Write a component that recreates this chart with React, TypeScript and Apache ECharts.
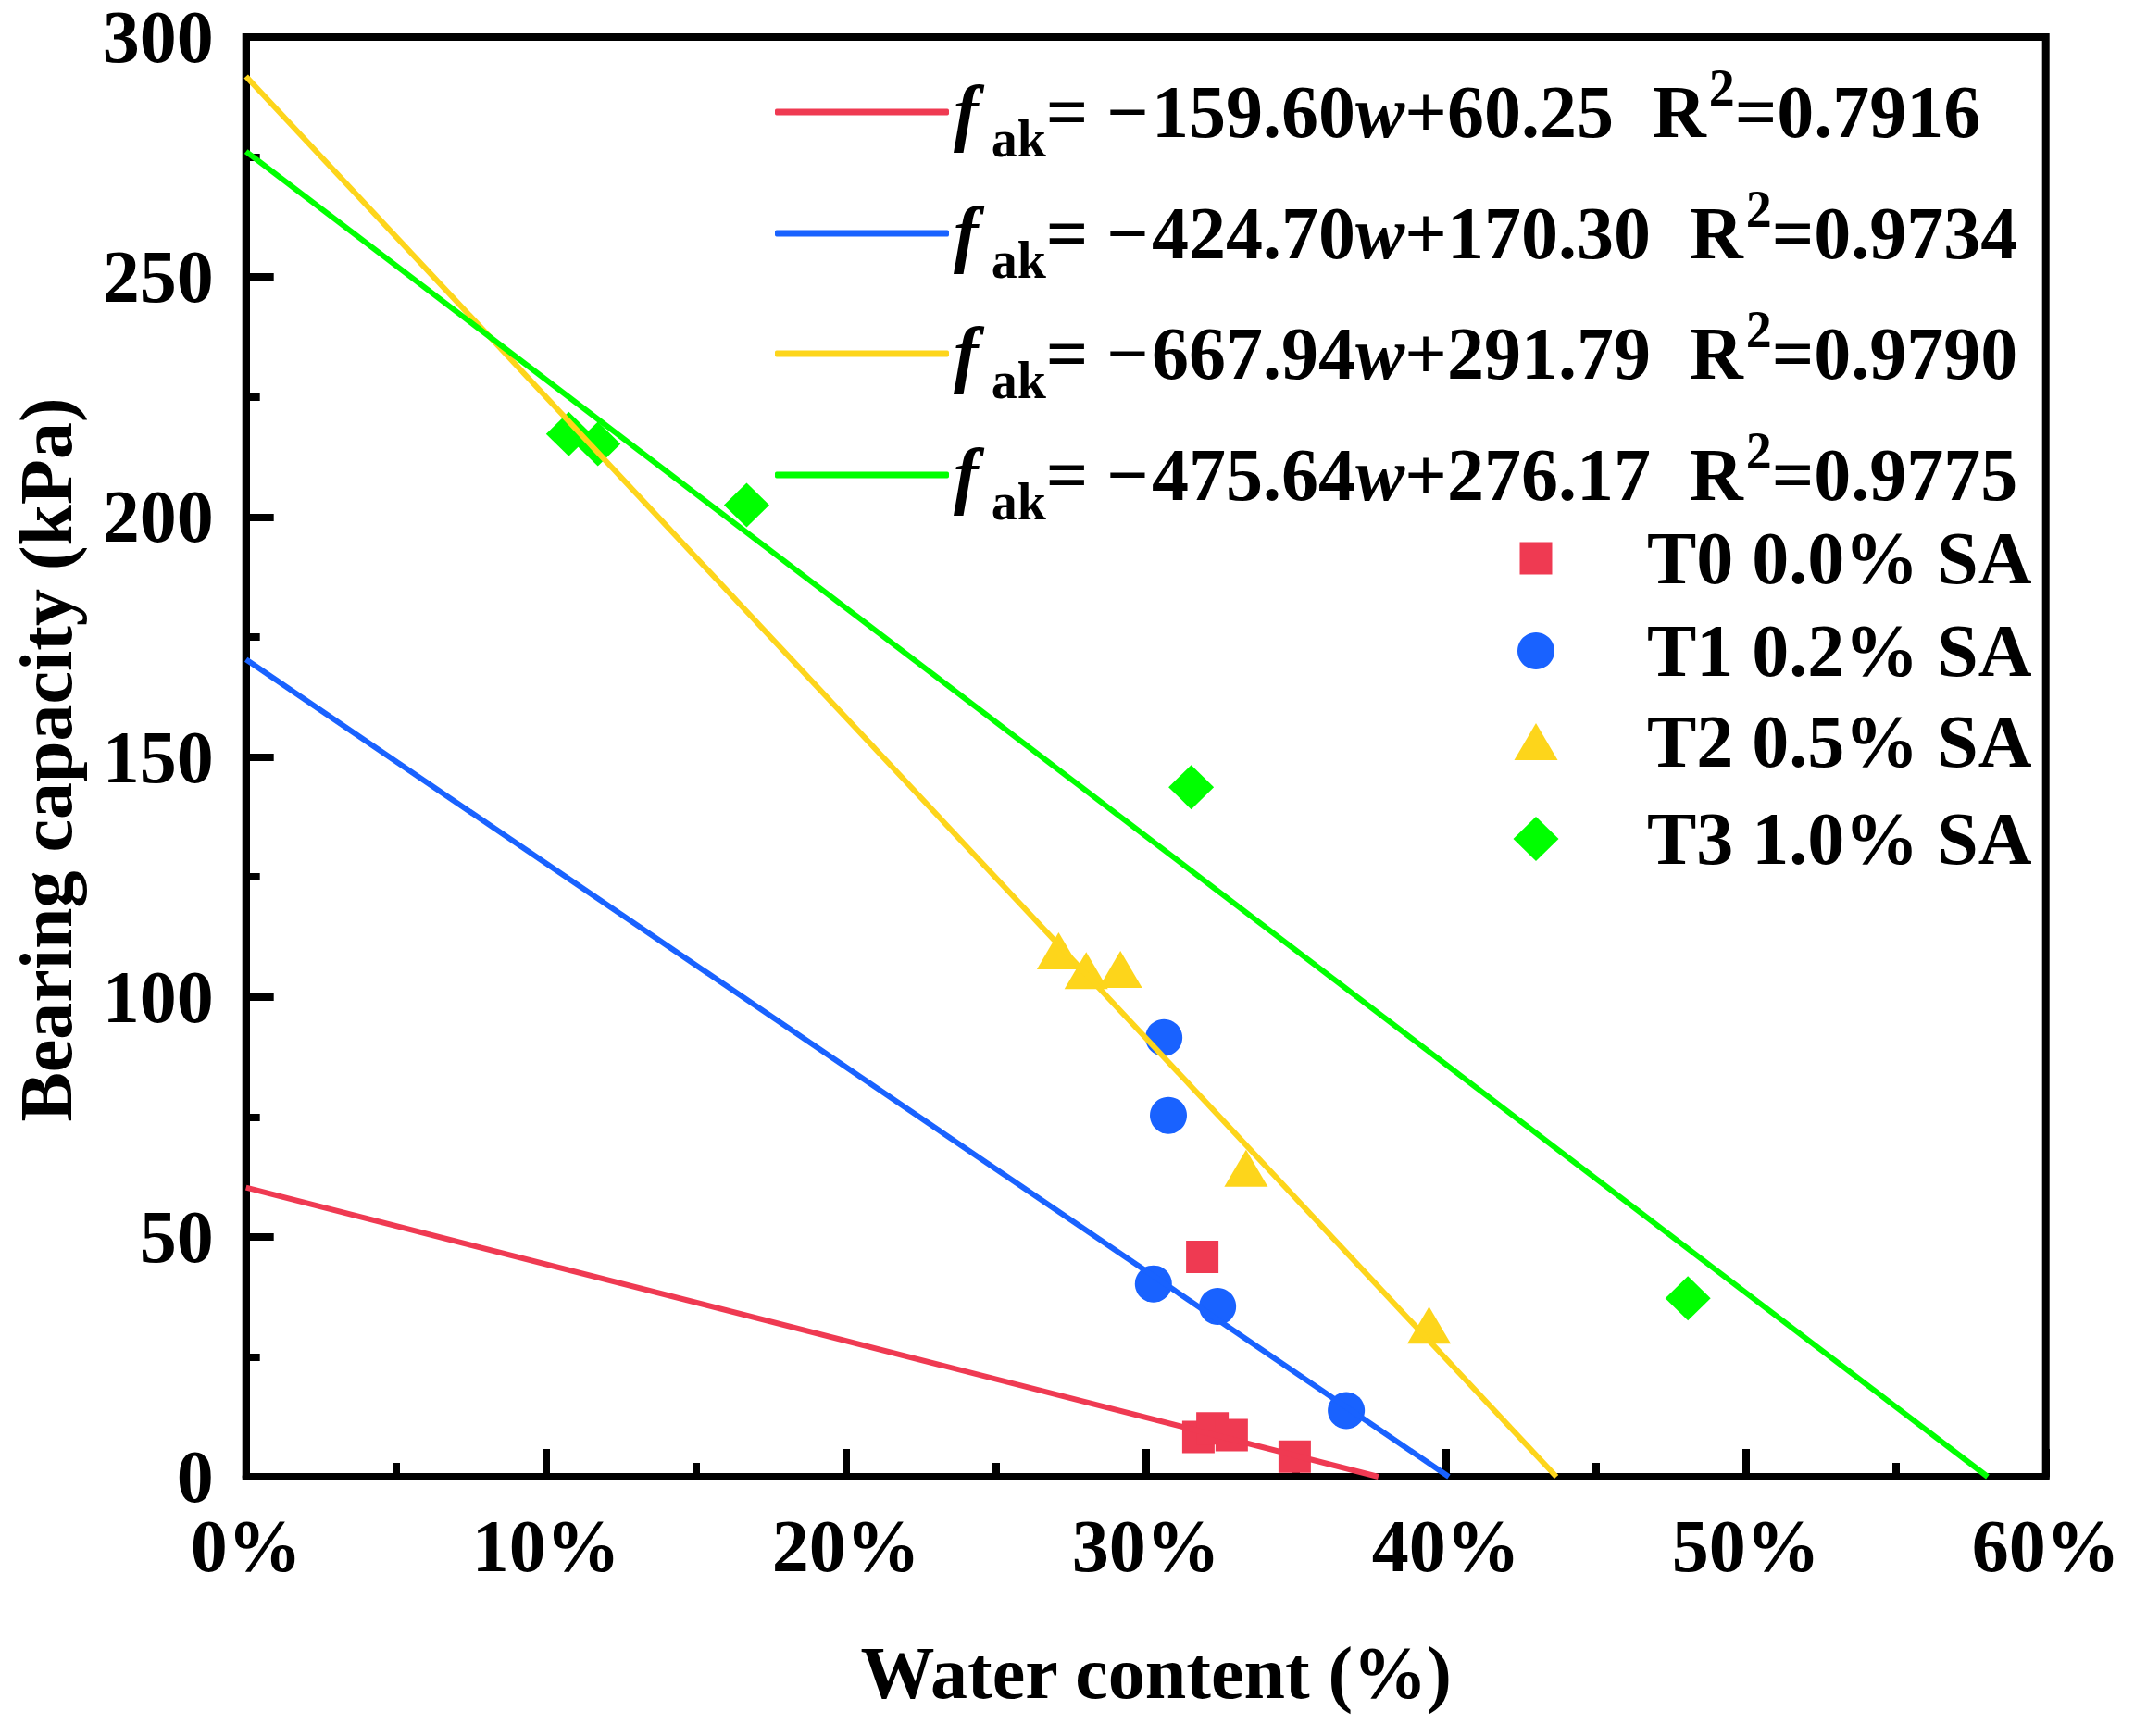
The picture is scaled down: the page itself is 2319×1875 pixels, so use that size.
import React, { useEffect, useRef } from "react";
import * as echarts from "echarts";

const FONT = "Liberation Serif";

// scatter groups
const groupNames = ["T0 0.0% SA", "T1 0.2% SA", "T2 0.5% SA", "T3 1.0% SA"];
const groupColors = ["#EF3A52", "#1962FF", "#FDD51B", "#00FF00"];
const groupSymbols = ["rect", "circle", "triangle", "diamond"];
const groupSymbolSizes = [[35, 35], [40, 40], [47, 40], [49, 48]];

// [water content %, bearing capacity kPa]
const t0Points = [[31.88, 45.8], [31.75, 8.3], [32.22, 10.1], [32.86, 8.7], [34.96, 4.2]];
const t1Points = [[30.6, 91.5], [30.75, 75.3], [30.25, 40.2], [32.39, 35.5], [36.68, 13.8]];
const t2Points = [[27.09, 109.6], [28.01, 105.5], [29.15, 105.7], [33.34, 64.3], [39.44, 31.6]];
const t3Points = [[10.76, 217.3], [11.73, 215.2], [16.69, 202.5], [31.51, 143.7], [48.07, 37.2]];
const groupPoints = [t0Points, t1Points, t2Points, t3Points];

// fitted lines f = a*w + b (w as fraction)
const fitNames = ["fit T0", "fit T1", "fit T2", "fit T3"];
const fitSlopes = [-159.6, -424.7, -667.94, -475.64];
const fitIntercepts = [60.25, 170.3, 291.79, 276.17];
const fitR2 = ["0.7916", "0.9734", "0.9790", "0.9775"];

// legend row centres (px)
const fitRowY = [109, 240, 370, 501];
const groupRowY = [603, 703, 801, 906];

const base = { fontFamily: FONT, fontWeight: "bold" as const, color: "#000" };

const rich = {
  n: { ...base, fontSize: 80, lineHeight: 90 },
  m: { ...base, fontSize: 80, lineHeight: 90, padding: [0, 0, 0, 3] },
  i: { ...base, fontSize: 80, lineHeight: 90, fontStyle: "italic" as const },
  sub: { ...base, fontSize: 56, lineHeight: 90, padding: [58, 0, 0, 14] },
  sup: { ...base, fontSize: 56, lineHeight: 90, padding: [0, 0, 52, 3] },
  r: { ...base, fontSize: 80, lineHeight: 90, padding: [0, 0, 0, 42] },
};

const fitLabel = (i: number) =>
  `{i|f}{sub|ak}{n|= \u2212}{m|${Math.abs(fitSlopes[i]).toFixed(2)}}{i|w}{n|+${fitIntercepts[i].toFixed(2)}}{r|R}{sup|2}{n|=${fitR2[i]}}`;

const App: React.FC = () => {
  const chartRef = useRef<HTMLDivElement>(null);

  useEffect(() => {
    document.body.style.margin = "0";
    if (!chartRef.current) return;
    const chart = echarts.init(chartRef.current, null, { renderer: "svg" });

    const axisLabel = { ...base, fontSize: 80, lineHeight: 80, margin: 35 };
    const nameTextStyle = { ...base, fontSize: 80, lineHeight: 80 };

    const fitLegends = fitNames.map((name, i) => ({
      left: 837,
      top: fitRowY[i] - 45,
      padding: 0,
      orient: "vertical",
      itemWidth: 188,
      itemHeight: 7,
      selectedMode: false,
      data: [{ name, icon: "roundRect" }],
      formatter: () => fitLabel(i),
      textStyle: { ...base, fontSize: 80, lineHeight: 90, rich },
    }));

    const groupLegends = groupNames.map((name, i) => {
      const [w, h] = groupSymbolSizes[i];
      const left = 1659 - w / 2;
      return {
        left,
        top: groupRowY[i] - 40,
        padding: 0,
        orient: "vertical",
        itemWidth: w,
        itemHeight: h,
        selectedMode: false,
        data: [{ name, icon: groupSymbols[i] }],
        textStyle: {
          ...base,
          fontSize: 80,
          lineHeight: 80,
          padding: [0, 0, 0, 1779 - (left + w + 5)],
        },
      };
    });

    const scatterSeries = groupNames.map((name, i) => ({
      name,
      type: "scatter",
      data: groupPoints[i],
      symbol: groupSymbols[i],
      symbolSize: groupSymbolSizes[i],
      itemStyle: { color: groupColors[i], opacity: 1 },
      z: 2,
    }));

    const fitSeries = fitNames.map((name, i) => ({
      name,
      type: "line",
      data: [
        [0, fitIntercepts[i]],
        [(-fitIntercepts[i] / fitSlopes[i]) * 100, 0],
      ],
      symbol: "none",
      color: groupColors[i],
      lineStyle: { color: groupColors[i], width: 6 },
      itemStyle: { color: groupColors[i] },
      z: 3,
    }));

    chart.setOption({
      animation: false,
      backgroundColor: "#fff",
      textStyle: { fontFamily: FONT },
      grid: {
        left: 265.7,
        right: 109.3,
        top: 39.8,
        bottom: 280,
        show: true,
        borderColor: "#000",
        borderWidth: 8,
        backgroundColor: "transparent",
      },
      legend: [...fitLegends, ...groupLegends],
      xAxis: {
        type: "value",
        min: 0,
        max: 60,
        interval: 10,
        name: "Water content (%)",
        nameLocation: "middle",
        nameGap: 172,
        nameTextStyle: { ...nameTextStyle, padding: [0, 0, 0, 22] },
        axisLine: { show: true, lineStyle: { color: "#000", width: 8 } },
        axisTick: { show: true, inside: true, length: 30, lineStyle: { color: "#000", width: 8 } },
        minorTick: { show: true, splitNumber: 2, length: 15, lineStyle: { color: "#000", width: 8 } },
        axisLabel: { ...axisLabel, formatter: (v: number) => `${Math.round(v)}%` },
        splitLine: { show: false },
      },
      yAxis: {
        type: "value",
        min: 0,
        max: 300,
        interval: 50,
        name: "Bearing capacity (kPa)",
        nameLocation: "middle",
        nameGap: 176,
        nameTextStyle: { ...nameTextStyle, padding: [0, 6, 0, 0] },
        axisLine: { show: true, lineStyle: { color: "#000", width: 8 } },
        axisTick: { show: true, inside: true, length: 30, lineStyle: { color: "#000", width: 8 } },
        minorTick: { show: true, splitNumber: 2, length: 15, lineStyle: { color: "#000", width: 8 } },
        axisLabel,
        splitLine: { show: false },
      },
      series: [...scatterSeries, ...fitSeries],
    });

    return () => {
      chart.dispose();
    };
  }, []);

  return (
    <div
      ref={chartRef}
      style={{ position: "fixed", left: 0, top: 0, width: "2319px", height: "1875px" }}
    />
  );
};

export default App;
